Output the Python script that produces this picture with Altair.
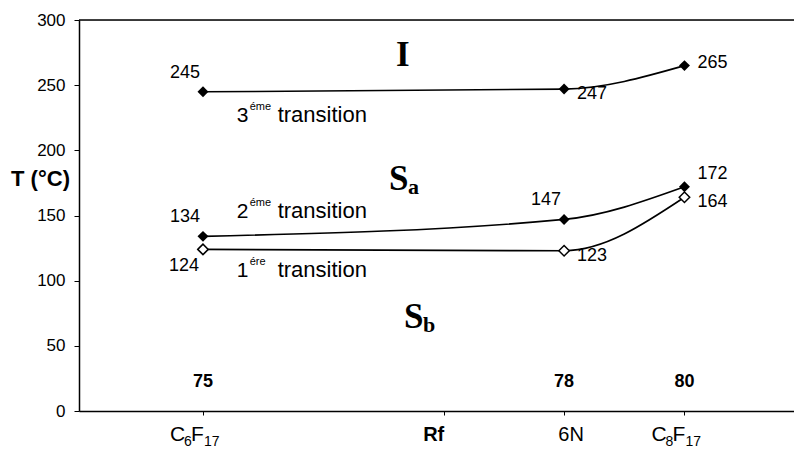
import altair as alt
import pandas as pd

# ---- data ----
positions = [1, 4, 5]                      # C6F17, 6N, C8F17 on the category axis
t1 = [124, 123, 164]                       # 1ère transition (open diamonds)
t2 = [134, 147, 172]                       # 2ème transition
t3 = [245, 247, 265]                       # 3ème transition
place_t1 = ["sw", "se", "se"]
place_t2 = ["nw", "nw", "ne"]
place_t3 = ["nw", "se", "e"]

rf_numbers = ["75", "78", "80"]
rf_level = 22

tick_pos = [1, 3, 4, 5]
y_ticks = [0, 50, 100, 150, 200, 250, 300]

# x-axis category labels (formulas drawn with real subscripts)
formula_pos = [1, 5]
formula_main1 = ["C", "C"]
formula_sub1 = ["6", "8"]
formula_main2 = ["F", "F"]
formula_sub2 = ["17", "17"]
rf_axis_label = "Rf"
rf_axis_pos = 3
n6_label = "6N"
n6_pos = 4

trans_num = ["3", "2", "1"]
trans_sup = ["éme", "éme", "ére"]
trans_x = [1.28, 1.28, 1.28]
trans_y = [222, 148, 103]

phase_main = ["S", "S"]
phase_sub = ["a", "b"]
phase_x = [2.545, 2.67]
phase_y = [169.6, 63.7]
iso_label = "I"
iso_x = 2.66
iso_y = 273

SANS = "Liberation Sans"
SERIF = "Liberation Serif"

rows = []
for name, vals, places, filled in [("t1", t1, place_t1, False),
                                   ("t2", t2, place_t2, True),
                                   ("t3", t3, place_t3, True)]:
    for xp, v, p in zip(positions, vals, places):
        rows.append({"series": name, "x": xp, "y": v, "filled": filled,
                     "place": p, "label": str(v)})
df = pd.DataFrame(rows)

xscale = alt.Scale(domain=[-0.03, 5.91], nice=False, zero=False)
yscale = alt.Scale(domain=[0, 300], nice=False)

X = alt.X("x:Q", scale=xscale, title=None,
          axis=alt.Axis(values=tick_pos, labels=False, grid=False,
                        domainColor="black", domainWidth=1.5, tickColor="black",
                        tickSize=4))
Y = alt.Y("y:Q", scale=yscale, title="T (°C)",
          axis=alt.Axis(values=y_ticks, grid=False, domainColor="black",
                        domainWidth=1.5, tickColor="black", tickSize=5,
                        labelFont=SANS, labelFontSize=17, labelColor="black",
                        labelPadding=9, titleAngle=0, titleX=-39, titleY=158,
                        titleAlign="center", titleBaseline="middle",
                        titleFont=SANS, titleFontSize=22, titleFontWeight="bold",
                        titleColor="black"))

base = alt.Chart(df)

top_rule = alt.Chart(pd.DataFrame({"y": [300]})).mark_rule(
    color="black", strokeWidth=1.5).encode(y=Y)

lines = base.mark_line(color="black", strokeWidth=1.6,
                       interpolate="monotone").encode(x=X, y=Y, detail="series:N")

pts_filled = base.transform_filter("datum.filled").mark_point(
    shape="diamond", filled=True, color="black", size=120, opacity=1).encode(x=X, y=Y)
pts_open = base.transform_filter("!datum.filled").mark_point(
    shape="diamond", filled=True, fill="white", stroke="black", strokeWidth=1.5,
    size=110, opacity=1).encode(x=X, y=Y)

place_style = {
    "nw": dict(align="center", dx=-18, dy=-19),
    "sw": dict(align="center", dx=-19, dy=17),
    "ne": dict(align="left", dx=13, dy=-13),
    "e": dict(align="left", dx=13, dy=-3),
    "se": dict(align="left", dx=13, dy=5),
}
value_labels = [
    base.transform_filter(f"datum.place == '{k}'").mark_text(
        baseline="middle", font=SANS, fontSize=18, color="black", **st
    ).encode(x=X, y=Y, text="label:N")
    for k, st in place_style.items()
]

rf_df = pd.DataFrame({"x": positions, "y": [rf_level] * 3, "t": rf_numbers})
rf_text = alt.Chart(rf_df).mark_text(
    font=SANS, fontSize=18, fontWeight="bold", color="black", baseline="middle"
).encode(x=X, y=Y, text="t:N")

# x-axis labels as text below the axis
MAIN_Y = 421   # pixel offset from plot top (baseline of label text)
SUB_Y = 426
fm_df = pd.DataFrame({"x": formula_pos, "c": formula_main1, "n": formula_sub1,
                      "f": formula_main2, "m": formula_sub2})
fm = alt.Chart(fm_df)
fm_c = fm.mark_text(font=SANS, fontSize=21, color="black", align="left",
                    baseline="alphabetic", dx=-33).encode(
    x=X, y=alt.value(MAIN_Y), text="c:N")
fm_n = fm.mark_text(font=SANS, fontSize=14, color="black", align="left",
                    baseline="alphabetic", dx=-19).encode(
    x=X, y=alt.value(SUB_Y), text="n:N")
fm_f = fm.mark_text(font=SANS, fontSize=21, color="black", align="left",
                    baseline="alphabetic", dx=-12).encode(
    x=X, y=alt.value(MAIN_Y), text="f:N")
fm_m = fm.mark_text(font=SANS, fontSize=14, color="black", align="left",
                    baseline="alphabetic", dx=1).encode(
    x=X, y=alt.value(SUB_Y), text="m:N")

rf_ax = alt.Chart(pd.DataFrame({"x": [rf_axis_pos], "t": [rf_axis_label]})).mark_text(
    font=SANS, fontSize=20, fontWeight="bold", color="black", align="center",
    baseline="alphabetic", dx=-10).encode(x=X, y=alt.value(MAIN_Y), text="t:N")
n6_ax = alt.Chart(pd.DataFrame({"x": [n6_pos], "t": [n6_label]})).mark_text(
    font=SANS, fontSize=20, color="black", align="center",
    baseline="alphabetic", dx=7).encode(x=X, y=alt.value(MAIN_Y), text="t:N")

tr_df = pd.DataFrame({"x": trans_x, "y": trans_y, "n": trans_num, "s": trans_sup,
                      "w": ["transition"] * 3})
tr_num = alt.Chart(tr_df).mark_text(
    font=SANS, fontSize=21, color="black", align="left", baseline="alphabetic"
).encode(x=X, y=Y, text="n:N")
tr_sup = alt.Chart(tr_df).mark_text(
    font=SANS, fontSize=11, color="black", align="left", baseline="alphabetic",
    dx=13, dy=-12
).encode(x=X, y=Y, text="s:N")
tr_word = alt.Chart(tr_df).mark_text(
    font=SANS, fontSize=22, color="black", align="left", baseline="alphabetic", dx=41
).encode(x=X, y=Y, text="w:N")

ph_df = pd.DataFrame({"x": phase_x, "y": phase_y, "m": phase_main, "s": phase_sub})
ph_main = alt.Chart(ph_df).mark_text(
    font=SERIF, fontSize=35, fontWeight="bold", color="black", align="left",
    baseline="alphabetic"
).encode(x=X, y=Y, text="m:N")
ph_sub = alt.Chart(ph_df).mark_text(
    font=SERIF, fontSize=22, fontWeight="bold", color="black", align="left",
    baseline="alphabetic", dx=19, dy=4
).encode(x=X, y=Y, text="s:N")

iso_df = pd.DataFrame({"x": [iso_x], "y": [iso_y], "t": [iso_label]})
iso = alt.Chart(iso_df).mark_text(
    font=SERIF, fontSize=35, fontWeight="bold", color="black", baseline="middle"
).encode(x=X, y=Y, text="t:N")

chart = alt.layer(
    top_rule, lines, pts_filled, pts_open, *value_labels, rf_text,
    fm_c, fm_n, fm_f, fm_m, rf_ax, n6_ax,
    tr_num, tr_sup, tr_word, ph_main, ph_sub, iso
).properties(
    width=715, height=391,
    autosize=alt.AutoSizeParams(type="none"),
    padding={"left": 71, "top": 12, "right": 0, "bottom": 39},
).configure_view(strokeWidth=0).configure(background="white")

chart.save("out.html", embed_options={"renderer": "svg", "actions": False})
